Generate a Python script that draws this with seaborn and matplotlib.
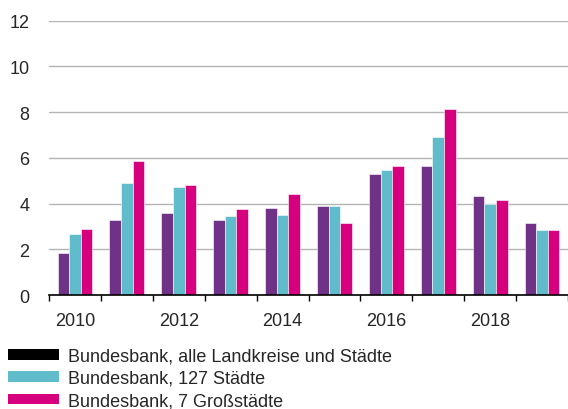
import matplotlib
matplotlib.use("Agg")
import matplotlib.pyplot as plt
from matplotlib.patches import Patch
from matplotlib.ticker import FixedLocator
import seaborn as sns
import numpy as np
import pandas as pd

# data
years = [2010, 2011, 2012, 2013, 2014, 2015, 2016, 2017, 2018, 2019]
series = ["Bundesbank, alle Landkreise und Städte",
          "Bundesbank, 127 Städte",
          "Bundesbank, 7 Großstädte"]
alle = [1.82, 3.28, 3.57, 3.27, 3.79, 3.89, 5.28, 5.64, 4.34, 3.16]
staedte127 = [2.65, 4.88, 4.74, 3.44, 3.50, 3.89, 5.47, 6.90, 3.98, 2.84]
gross7 = [2.87, 5.88, 4.80, 3.78, 4.42, 3.15, 5.63, 8.15, 4.14, 2.84]
year_labels = ["2010", "", "2012", "", "2014", "", "2016", "", "2018", ""]

bar_colors = ["#6f3287", "#60bbcb", "#d6007e"]
legend_colors = ["#000000", "#60bbcb", "#d6007e"]

df = pd.DataFrame({
    "year": years * 3,
    "series": [series[0]] * 10 + [series[1]] * 10 + [series[2]] * 10,
    "value": alle + staedte127 + gross7,
})

sns.set_style("white")
plt.rcParams["font.family"] = ["Liberation Sans", "DejaVu Sans"]

fig = plt.figure(figsize=(5.68, 4.10), dpi=100)
ax = fig.add_axes([0.0863, 0.278, 0.9137, 0.669])

sns.barplot(data=df, x="year", y="value", hue="series", hue_order=series,
            palette=bar_colors, width=0.67, gap=0, saturation=1,
            edgecolor="white", linewidth=0.4, legend=False, ax=ax, zorder=3)

ax.set_ylim(0, 12)
ax.set_xlim(-0.5, len(years) - 0.5)
ax.set_yticks(np.arange(0, 13, 2))
ax.yaxis.grid(True, color="#b4b4b4", linewidth=1)
ax.set_axisbelow(True)
for s in ["top", "right", "left"]:
    ax.spines[s].set_visible(False)
ax.spines["bottom"].set_color("black")
ax.spines["bottom"].set_linewidth(1.2)
ax.spines["bottom"].set_zorder(5)

ax.set_xticks(range(len(years)))
ax.set_xticklabels(year_labels)
ax.xaxis.set_minor_locator(FixedLocator(np.arange(-0.5, len(years), 1.0)))
ax.tick_params(axis="x", which="major", length=0, pad=12, labelsize=13)
ax.tick_params(axis="x", which="minor", length=4.5, width=1, color="black", direction="out", bottom=True)
ax.tick_params(axis="y", length=0, pad=14, labelsize=13)
ax.set_xlabel("")
ax.set_ylabel("")

handles = [Patch(facecolor=c, edgecolor="none") for c in legend_colors]
fig.legend(handles, series, loc="upper left", bbox_to_anchor=(0.014, 0.15),
           frameon=False, fontsize=13, handlelength=2.8, handleheight=0.55,
           handletextpad=0.55, labelspacing=0.3, borderaxespad=0, borderpad=0)

fig.savefig("out.png", dpi=100)
